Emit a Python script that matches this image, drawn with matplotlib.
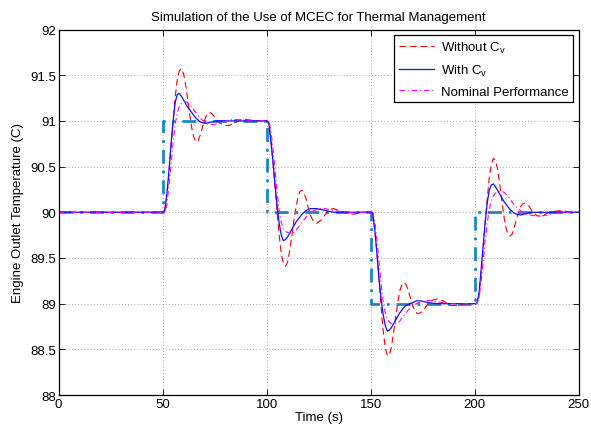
import matplotlib
matplotlib.use("Agg")
import matplotlib.pyplot as plt

plt.rcParams['font.family'] = ['Liberation Sans', 'DejaVu Sans']

# time samples (s)
time = [0,
        50, 51, 52, 53, 54, 55, 56, 57, 58, 59, 60, 61, 62, 63, 64, 65, 66, 67, 68, 69,
        70, 71, 72, 73, 74, 76, 78, 80, 82, 85, 88, 92, 96,
        100, 101, 102, 103, 104, 105, 106, 107, 108, 109, 110, 111, 112, 113, 114, 115,
        116, 117, 118, 119, 120, 121, 122, 123, 124, 126, 128, 130, 132, 135, 138, 142, 146,
        150, 151, 152, 153, 154, 155, 156, 157, 158, 159, 160, 161, 162, 163, 164, 165,
        166, 167, 168, 169, 170, 171, 172, 173, 174, 176, 178, 180, 182, 185, 188, 192, 196,
        200, 201, 202, 203, 204, 205, 206, 207, 208, 209, 210, 211, 212, 213, 214, 215,
        216, 217, 218, 219, 220, 221, 222, 223, 224, 226, 228, 230, 232, 235, 238, 242, 246,
        250]

without_cv = [90.00,
              90.00, 90.02, 90.18, 90.42, 90.72, 91.00, 91.26, 91.45, 91.55, 91.57, 91.52, 91.40,
              91.24, 91.07, 90.92, 90.82, 90.77, 90.78, 90.84, 90.92, 91.00, 91.06, 91.09, 91.09,
              91.07, 91.01, 90.97, 90.95, 90.95, 90.98, 91.02, 91.01, 91.00,
              91.00, 90.98, 90.80, 90.56, 90.28, 90.00, 89.75, 89.55, 89.44, 89.41, 89.45, 89.57,
              89.73, 89.90, 90.05, 90.16, 90.23, 90.24, 90.21, 90.14, 90.05, 89.97, 89.92, 89.89,
              89.88, 89.91, 89.97, 90.03, 90.04, 90.02, 89.99, 89.98, 90.00,
              90.00, 89.99, 89.80, 89.55, 89.25, 88.96, 88.70, 88.52, 88.43, 88.44, 88.53, 88.68,
              88.85, 89.01, 89.14, 89.21, 89.23, 89.21, 89.15, 89.07, 88.99, 88.93, 88.90, 88.89,
              88.90, 88.95, 89.01, 89.04, 89.05, 89.03, 88.98, 88.98, 89.00,
              89.00, 89.00, 89.08, 89.32, 89.60, 89.88, 90.14, 90.38, 90.53, 90.59, 90.57, 90.47,
              90.31, 90.13, 89.96, 89.83, 89.76, 89.74, 89.76, 89.83, 89.92, 90.00, 90.06, 90.09,
              90.10, 90.07, 90.00, 89.96, 89.96, 89.99, 90.01, 90.02, 90.00,
              90.00]

with_cv = [90.00,
           90.00, 90.02, 90.20, 90.45, 90.74, 91.00, 91.20, 91.29, 91.30, 91.27, 91.23, 91.19,
           91.15, 91.12, 91.09, 91.06, 91.03, 91.01, 90.99, 90.98, 90.975, 90.975, 90.98, 90.985,
           90.99, 91.00, 91.00, 91.00, 91.00, 91.00, 91.00, 91.00, 91.00,
           91.00, 90.98, 90.78, 90.56, 90.30, 90.07, 89.88, 89.75, 89.69, 89.70, 89.73, 89.77,
           89.81, 89.85, 89.89, 89.92, 89.95, 89.98, 90.00, 90.02, 90.03, 90.04, 90.04, 90.04,
           90.04, 90.03, 90.02, 90.01, 90.00, 90.00, 90.00, 90.00, 90.00,
           90.00, 89.99, 89.80, 89.55, 89.27, 89.05, 88.88, 88.76, 88.70, 88.71, 88.74, 88.78,
           88.82, 88.86, 88.90, 88.93, 88.96, 88.98, 88.99, 89.00, 89.01, 89.02, 89.03, 89.03,
           89.03, 89.02, 89.01, 89.005, 89.00, 89.00, 89.00, 89.00, 89.00,
           89.00, 89.00, 89.10, 89.35, 89.62, 89.88, 90.10, 90.24, 90.30, 90.31, 90.28, 90.24,
           90.20, 90.16, 90.12, 90.09, 90.06, 90.03, 90.01, 89.99, 89.98, 89.975, 89.97, 89.975,
           89.98, 89.99, 90.00, 90.00, 90.00, 90.00, 90.00, 90.00, 90.00,
           90.00]

nominal = [90.00,
           90.00, 90.00, 90.08, 90.28, 90.52, 90.76, 90.96, 91.09, 91.16, 91.19, 91.21, 91.21,
           91.20, 91.18, 91.15, 91.12, 91.09, 91.06, 91.03, 91.01, 90.99, 90.975, 90.965, 90.96,
           90.96, 90.965, 90.98, 90.995, 91.01, 91.015, 91.01, 91.00, 91.00,
           91.00, 91.00, 90.90, 90.70, 90.46, 90.22, 90.02, 89.89, 89.82, 89.79, 89.78, 89.77,
           89.77, 89.78, 89.80, 89.83, 89.86, 89.89, 89.92, 89.95, 89.97, 89.99, 90.01, 90.02,
           90.03, 90.04, 90.04, 90.03, 90.02, 90.01, 90.00, 89.995, 90.00,
           90.00, 90.00, 89.90, 89.70, 89.46, 89.22, 89.02, 88.90, 88.83, 88.80, 88.78, 88.78,
           88.78, 88.79, 88.81, 88.84, 88.87, 88.90, 88.93, 88.95, 88.97, 88.99, 89.00, 89.01,
           89.02, 89.03, 89.035, 89.03, 89.02, 89.01, 89.00, 88.995, 89.00,
           89.00, 89.00, 89.05, 89.22, 89.45, 89.68, 89.88, 90.03, 90.13, 90.18, 90.21, 90.22,
           90.23, 90.23, 90.22, 90.20, 90.17, 90.14, 90.11, 90.08, 90.06, 90.04, 90.02, 90.00,
           89.99, 89.97, 89.965, 89.96, 89.96, 89.97, 89.985, 90.00, 90.00,
           90.00]

# commanded set point
ref_time = [0, 50, 50, 100, 100, 150, 150, 200, 200, 250]
ref_temp = [90, 90, 91, 91, 90, 90, 89, 89, 90, 90]

fig = plt.figure(figsize=(5.91, 4.31), dpi=100)
ax = fig.add_axes([0.0993, 0.0812, 0.8799, 0.8480])

ax.plot(time, without_cv, color='red', lw=0.8, dashes=(6, 3.5), label='Without C$_\\mathregular{v}$')
ax.plot(time, with_cv, color='#1010ff', lw=0.9, label='With C$_\\mathregular{v}$')
ax.plot(time, nominal, color='#ff00ff', lw=0.8, dashes=(5, 2.5, 1, 2.5), label='Nominal Performance')
ax.plot(ref_time, ref_temp, color='#1e88cc', lw=2.0, dashes=(5, 2.5, 1, 2.5), zorder=1)

ax.set_xlim(0, 250)
ax.set_ylim(88, 92)
ax.set_xticks([0, 50, 100, 150, 200, 250])
ax.set_yticks([88, 88.5, 89, 89.5, 90, 90.5, 91, 91.5, 92])
ax.set_yticklabels(['88', '88.5', '89', '89.5', '90', '90.5', '91', '91.5', '92'])
ax.tick_params(direction='in', top=True, right=True, length=4, width=0.6, labelsize=9.5, pad=2)
ax.grid(True, color='#555555', lw=0.5, linestyle=(0, (1, 3.5)))
for sp in ax.spines.values():
    sp.set_linewidth(0.9)

ax.set_title('Simulation of the Use of MCEC for Thermal Management', fontsize=9.5, pad=7)
ax.set_xlabel('Time (s)', fontsize=9.5, labelpad=1)
ax.set_ylabel('Engine Outlet Temperature (C)', fontsize=9.5, labelpad=4)

leg = ax.legend(loc='upper right', fontsize=9.5, fancybox=False, framealpha=1,
                edgecolor='black', borderaxespad=0.4, handlelength=2.7,
                handletextpad=0.5, borderpad=0.35, labelspacing=0.6)
leg.get_frame().set_linewidth(0.9)

fig.savefig('out.png', dpi=100)
